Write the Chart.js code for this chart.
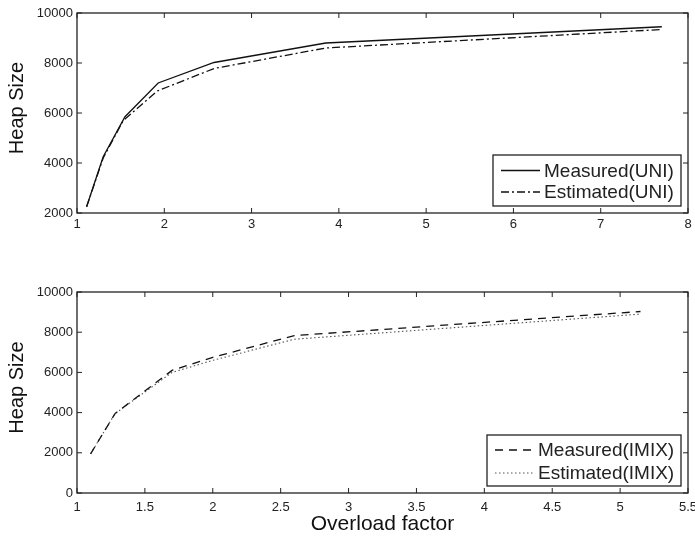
<!DOCTYPE html>
<html>
<head>
<meta charset="utf-8">
<script src="https://cdn.jsdelivr.net/npm/chart.js@4.4.0/dist/chart.umd.min.js"></script>
<style>
  html, body { margin: 0; padding: 0; background: #fff; }
  #wrap { position: relative; width: 695px; height: 537px; overflow: hidden; }
  canvas { position: absolute; left: 0; }
  #top { top: 0; }
  #bot { top: 260px; }
</style>
</head>
<body>
<div id="wrap">
  <canvas id="top" width="695" height="250"></canvas>
  <canvas id="bot" width="695" height="277"></canvas>
</div>
<script>
// top panel: UNI traffic
const uniX = [1.11, 1.30, 1.55, 1.93, 2.57, 3.85, 7.70];
const uniMeasured = [2250, 4250, 5850, 7200, 8020, 8800, 9450];
const uniEstX = [1.11, 1.30, 1.53, 1.92, 2.57, 3.85, 7.70];
const uniEstimated = [2250, 4200, 5700, 6880, 7780, 8600, 9340];

// bottom panel: IMIX traffic
const imixX = [1.10, 1.28, 1.70, 2.00, 2.60, 5.15];
const imixMeasured = [1950, 3950, 6100, 6750, 7830, 9030];
const imixEstimated = [1950, 3950, 6000, 6600, 7650, 8900];

// tick labels
const topXTicks = [1, 2, 3, 4, 5, 6, 7, 8];
const topYTicks = [2000, 4000, 6000, 8000, 10000];
const botXTicks = [1, 1.5, 2, 2.5, 3, 3.5, 4, 4.5, 5, 5.5];
const botYTicks = [0, 2000, 4000, 6000, 8000, 10000];

const FONT = "'Liberation Sans', Arial, Helvetica, sans-serif";
Chart.defaults.font.family = FONT;
Chart.defaults.font.size = 13;
Chart.defaults.color = '#222';

function pts(xs, ys){ return xs.map((x, i) => ({ x, y: ys[i] })); }

// matlab-ish box with inward ticks on all four sides
const framePlugin = {
  id: 'frame',
  afterDraw(chart){
    const { ctx, chartArea: a, scales } = chart;
    const L = 5;
    ctx.save();
    ctx.strokeStyle = '#222';
    ctx.lineWidth = 1.3;
    ctx.strokeRect(a.left, a.top, a.right - a.left, a.bottom - a.top);
    ctx.lineWidth = 1;
    ctx.beginPath();
    scales.x.ticks.forEach(t => {
      const px = scales.x.getPixelForValue(t.value);
      ctx.moveTo(px, a.bottom); ctx.lineTo(px, a.bottom - L);
      ctx.moveTo(px, a.top); ctx.lineTo(px, a.top + L);
    });
    scales.y.ticks.forEach(t => {
      const py = scales.y.getPixelForValue(t.value);
      ctx.moveTo(a.left, py); ctx.lineTo(a.left + L, py);
      ctx.moveTo(a.right, py); ctx.lineTo(a.right - L, py);
    });
    ctx.stroke();
    ctx.restore();
  }
};

// y title, sits a bit above the middle like the original
const yTitle = {
  id: 'yTitle',
  afterDraw(chart, args, o){
    const { ctx, chartArea: a } = chart;
    ctx.save();
    ctx.translate(17, (a.top + a.bottom) / 2 - 5);
    ctx.rotate(-Math.PI / 2);
    ctx.font = '20px ' + FONT;
    ctx.fillStyle = '#111';
    ctx.textAlign = 'center';
    ctx.textBaseline = 'middle';
    ctx.fillText(o.text, 0, 0);
    ctx.restore();
  }
};

// legend box inside the plot, bottom right
const boxLegend = {
  id: 'boxLegend',
  afterDraw(chart, args, o){
    const { ctx, chartArea: a } = chart;
    const x0 = a.right - o.inset - o.width;
    const y0 = a.bottom - o.inset - o.height;
    ctx.save();
    ctx.fillStyle = '#fff';
    ctx.fillRect(x0, y0, o.width, o.height);
    ctx.strokeStyle = '#222';
    ctx.lineWidth = 1.3;
    ctx.strokeRect(x0, y0, o.width, o.height);
    ctx.font = '19px ' + FONT;
    ctx.textBaseline = 'middle';
    ctx.fillStyle = '#222';
    chart.data.datasets.forEach((ds, i) => {
      const y = y0 + o.rows[i];
      ctx.strokeStyle = ds.borderColor;
      ctx.lineWidth = ds.borderWidth;
      ctx.setLineDash(ds.borderDash || []);
      ctx.beginPath();
      ctx.moveTo(x0 + 8, y); ctx.lineTo(x0 + 47, y);
      ctx.stroke();
      ctx.setLineDash([]);
      ctx.fillText(ds.label, x0 + 51, y + 1);
    });
    ctx.restore();
  }
};

function makePanel(id, cfg){
  const H = document.getElementById(id).height;
  return new Chart(document.getElementById(id), {
    type: 'line',
    data: { datasets: cfg.datasets },
    plugins: [framePlugin, yTitle, boxLegend],
    options: {
      responsive: false,
      animation: false,
      layout: { padding: { top: cfg.plotTop, right: 7, left: 0, bottom: 0 } },
      elements: { point: { radius: 0 }, line: { tension: 0, fill: false } },
      plugins: {
        legend: { display: false },
        tooltip: { enabled: false },
        yTitle: { text: 'Heap Size' },
        boxLegend: cfg.legend
      },
      scales: {
        x: {
          type: 'linear',
          min: cfg.xTicks[0],
          max: cfg.xTicks[cfg.xTicks.length - 1],
          grid: { display: false, drawTicks: false },
          border: { display: false },
          ticks: { padding: cfg.xPad, maxRotation: 0, autoSkip: false, callback: v => String(v) },
          afterBuildTicks: s => { s.ticks = cfg.xTicks.map(v => ({ value: v })); },
          afterFit: s => { s.height = H - cfg.plotBottom; s.paddingLeft = 0; s.paddingRight = 0; },
          title: cfg.xTitle ? {
            display: true, text: cfg.xTitle,
            font: { size: 21, family: FONT }, color: '#111',
            padding: { top: 0, bottom: 0 }
          } : { display: false }
        },
        y: {
          min: cfg.yTicks[0],
          max: cfg.yTicks[cfg.yTicks.length - 1],
          grid: { display: false, drawTicks: false },
          border: { display: false },
          ticks: { padding: 4, autoSkip: false, callback: v => String(v) },
          afterBuildTicks: s => { s.ticks = cfg.yTicks.map(v => ({ value: v })); },
          afterFit: s => { s.width = 77; s.paddingTop = 0; s.paddingBottom = 0; }
        }
      }
    }
  });
}

makePanel('top', {
  plotTop: 13, plotBottom: 213, xPad: 4,
  xTicks: topXTicks, yTicks: topYTicks,
  legend: { width: 188, height: 51, inset: 7, rows: [15.5, 37] },
  datasets: [
    { label: 'Measured(UNI)', data: pts(uniX, uniMeasured),
      borderColor: '#111', borderWidth: 1.3 },
    { label: 'Estimated(UNI)', data: pts(uniEstX, uniEstimated),
      borderColor: '#111', borderWidth: 1.3, borderDash: [8, 3, 2, 3] }
  ]
});

makePanel('bot', {
  plotTop: 32, plotBottom: 233, xPad: 7,
  xTicks: botXTicks, yTicks: botYTicks,
  xTitle: 'Overload factor',
  legend: { width: 194, height: 51, inset: 7, rows: [15, 38] },
  datasets: [
    { label: 'Measured(IMIX)', data: pts(imixX, imixMeasured),
      borderColor: '#111', borderWidth: 1.3, borderDash: [8, 6] },
    { label: 'Estimated(IMIX)', data: pts(imixX, imixEstimated),
      borderColor: '#555', borderWidth: 1.1, borderDash: [1.5, 2.5] }
  ]
});
</script>
</body>
</html>
